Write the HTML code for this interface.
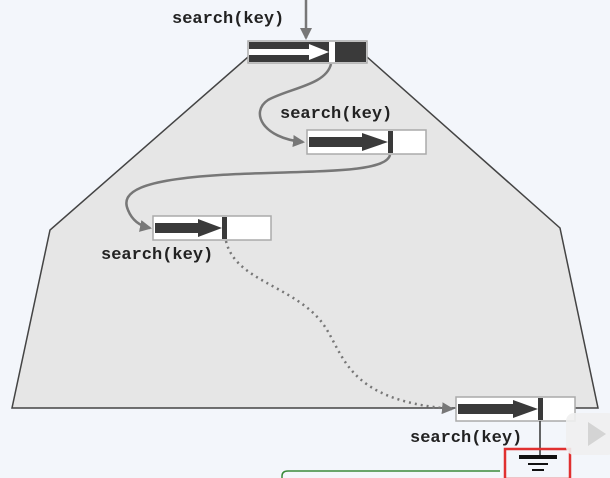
<!DOCTYPE html>
<html><head><style>
html,body{margin:0;padding:0;background:#f3f6fb;}
svg{display:block}
text{font-family:"Liberation Mono",monospace;font-weight:bold;font-size:17px;fill:#222}
</style></head><body>
<svg width="610" height="478" viewBox="0 0 610 478" xmlns="http://www.w3.org/2000/svg">
<defs>
<marker id="ah" markerWidth="12" markerHeight="12" refX="10" refY="6" orient="auto" markerUnits="userSpaceOnUse">
<path d="M0,0 L12,6 L0,12 Z" fill="#777"/></marker>
</defs>
<rect width="610" height="478" fill="#f3f6fb"/>
<polygon points="248,57 367,57 560,228 598,408 12,408 50,230" fill="#e6e6e6" stroke="#444" stroke-width="1.5"/>
<line x1="306" y1="0" x2="306" y2="38" stroke="#777" stroke-width="2.5" marker-end="url(#ah)"/>
<path d="M331,64 C326,85 290,88 268,100 C250,112 262,138 303,142" fill="none" stroke="#777" stroke-width="2.5" marker-end="url(#ah)"/>
<path d="M390,155 C385,175 300,170 220,175 C140,180 120,192 128,210 C132,220 140,226 150,228" fill="none" stroke="#777" stroke-width="2.5" marker-end="url(#ah)"/>
<path d="M226,241 C235,280 290,285 320,320 C345,350 340,400 452,409" fill="none" stroke="#777" stroke-width="2.5" stroke-dasharray="2,4" marker-end="url(#ah)"/>
<!-- N1 -->
<rect x="248" y="41" width="119" height="22" fill="#fff" stroke="#aaa" stroke-width="1.5"/>
<rect x="249" y="42" width="80" height="20" fill="#3a3a3a"/>
<rect x="249" y="49" width="60" height="6" fill="#fff"/>
<polygon points="309,44 329,52 309,60" fill="#fff"/>
<rect x="335" y="42" width="31" height="20" fill="#3a3a3a"/>
<!-- N2 -->
<rect x="307" y="130" width="119" height="24" fill="#fff" stroke="#aaa" stroke-width="1.5"/>
<rect x="309" y="137" width="56" height="10" fill="#3a3a3a"/>
<polygon points="362,133 388,142 362,151" fill="#3a3a3a"/>
<rect x="388" y="131" width="5" height="22" fill="#3a3a3a"/>
<!-- N3 -->
<rect x="153" y="216" width="118" height="24" fill="#fff" stroke="#aaa" stroke-width="1.5"/>
<rect x="155" y="223" width="46" height="10" fill="#3a3a3a"/>
<polygon points="198,219 222,228 198,237" fill="#3a3a3a"/>
<rect x="222" y="217" width="5" height="22" fill="#3a3a3a"/>
<!-- N4 -->
<rect x="456" y="397" width="119" height="24" fill="#fff" stroke="#aaa" stroke-width="1.5"/>
<rect x="458" y="404" width="58" height="10" fill="#3a3a3a"/>
<polygon points="513,400 538,409 513,418" fill="#3a3a3a"/>
<rect x="538" y="398" width="5" height="22" fill="#3a3a3a"/>
<!-- ground -->
<line x1="540" y1="421" x2="540" y2="455" stroke="#333" stroke-width="1.5"/>
<rect x="519" y="455" width="38" height="4" fill="#111"/>
<rect x="528" y="463" width="20" height="2" fill="#111"/>
<rect x="532" y="469" width="12" height="2" fill="#111"/>
<rect x="505" y="449" width="65" height="30" fill="none" stroke="#e03030" stroke-width="2.5"/>
<path d="M282,480 L282,476 Q282,471 288,471 L500,471" fill="none" stroke="#3a8a3a" stroke-width="1.5"/>
<rect x="566" y="413" width="50" height="42" rx="8" fill="#f0f0f0" opacity="0.9"/>
<polygon points="588,422 606,434 588,446" fill="#d4d4d4"/>
<text x="172" y="23">search(key)</text>
<text x="280" y="118">search(key)</text>
<text x="101" y="259">search(key)</text>
<text x="410" y="442">search(key)</text>
</svg>
</body></html>
